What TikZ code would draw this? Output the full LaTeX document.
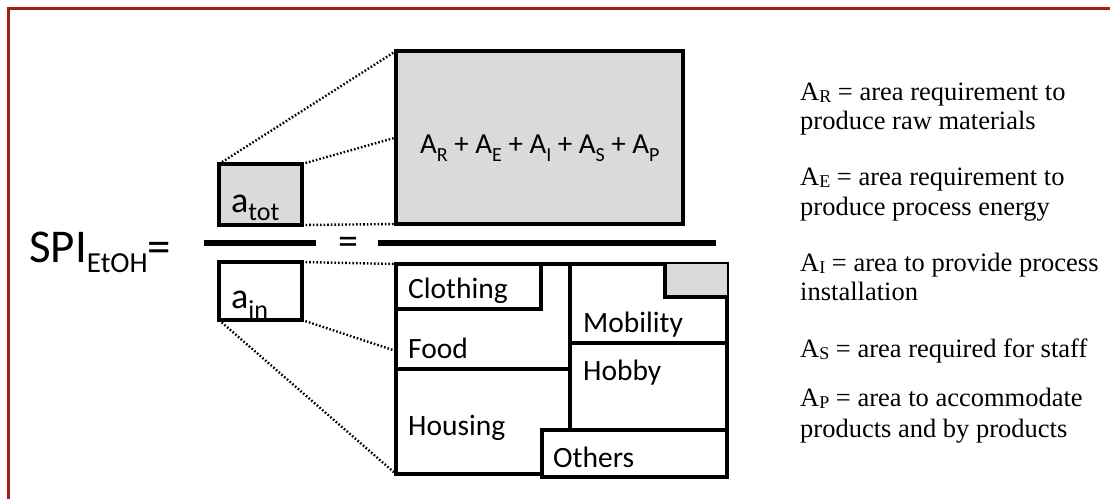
\documentclass[tikz,border=0pt]{standalone}
\usepackage{fontspec}
\setmainfont{Liberation Serif}
\newfontfamily\calib{Carlito}
\definecolor{boxgray}{RGB}{218,218,218}
\definecolor{bordred}{RGB}{160,32,18}
\newcommand\csub[2]{\raisebox{#1}{\fontsize{20}{20}\selectfont #2}}
\newcommand\tsub[1]{\raisebox{-2.5pt}{\fontsize{18}{18}\selectfont #1}}
\begin{document}
\begin{tikzpicture}[x=1pt,y=-1pt,
  box/.style={draw, line width=4pt, rectangle, inner sep=0pt, outer sep=0pt},
  wall/.style={line width=4pt, line cap=rect},
  bar/.style={line width=6.5pt},
  dots/.style={line width=2.4pt, dash pattern=on 1.6pt off 2pt},
  lbl/.style={font=\calib\fontsize{29.5}{32}\selectfont, inner sep=0pt, anchor=base west},
  note/.style={font=\fontsize{26.5}{28}\selectfont, inner sep=0pt, anchor=base west},
  frame/.style={draw=bordred, line width=3pt}]
\useasboundingbox (0,0) rectangle (1110,499);
% frame
\coordinate (fb) at (8,499);
\coordinate (fc) at (8,8);
\coordinate (fr) at (1110,8);
\draw[frame] (fb) -- (fc) -- (fr);

% boxes
\node[box, fill=boxgray, minimum width=83pt, minimum height=61pt] (atot) at (260.5,194.5) {};
\node[box, fill=boxgray, minimum width=287pt, minimum height=173pt] (top) at (539.5,137.5) {};
\node[box, minimum width=83pt, minimum height=58pt] (ain) at (260.5,291) {};
\node[box, minimum width=331pt, minimum height=210pt] (bot) at (561.5,369) {};

% inner plan of bottom box
\fill[boxgray] (665,264) rectangle (727,297);
\draw[wall] (396,309) -- (541,309) -- (541,264);
\draw[wall] (570,264) -- (570,429);
\draw[wall] (396,369) -- (570,369);
\draw[wall] (665,264) -- (665,297) -- (727,297);
\draw[wall] (570,343) -- (727,343);
\node[box, fill=white, minimum width=185pt, minimum height=47pt] (oth) at (634.5,453) {};

% fraction bars
\node[inner sep=0pt] (bl) at (203,243) {};
\node[inner sep=0pt] (br) at (317,243) {};
\node[inner sep=0pt] (cl) at (377,243) {};
\node[inner sep=0pt] (cr) at (717,243) {};
\draw[bar] (bl) -- (br);
\draw[bar] (cl) -- (cr);
\node[font=\calib\fontsize{40}{40}\selectfont, inner sep=0pt] (eq) at (348,246) {=};

% dotted connectors
\draw[dots] (atot.north west) -- (top.north west);
\draw[dots] (atot.north east) -- (top.west);
\draw[dots] (atot.south east) -- (top.south west);
\draw[dots] (ain.north east) -- (bot.north west);
\draw[dots] (ain.south east) -- ([yshift=18pt]bot.west);
\draw[dots] (ain.south west) -- (bot.south west);

% texts
\node[lbl, font=\calib\fontsize{47}{50}\selectfont] (spi) at (29,262)
  {SPI\raisebox{-10pt}{\fontsize{29}{30}\selectfont EtOH}=};
\node[lbl, font=\calib\fontsize{36}{40}\selectfont] (ta) at (231,212)
  {a\raisebox{-8pt}{\fontsize{26}{26}\selectfont tot}};
\node[lbl, font=\calib\fontsize{36}{40}\selectfont] (ia) at (231,308)
  {a\raisebox{-10pt}{\fontsize{26}{26}\selectfont in}};
\node[lbl, font=\calib\fontsize{29}{32}\selectfont] (sum) at (420,153)
  {A\csub{-8pt}{R} + A\csub{-8pt}{E} + A\csub{-8pt}{I} + A\csub{-8pt}{S} + A\csub{-8pt}{P}};
\node[lbl] (clo) at (408,298) {Clothing};
\node[lbl] (foo) at (408,358) {Food};
\node[lbl] (hou) at (408,435) {Housing};
\node[lbl] (mob) at (583,332) {Mobility};
\node[lbl] (hob) at (583,380) {Hobby};
\node[lbl] (ot) at (553,467) {Others};

% legend
\node[note] (n1) at (800,100) {A\tsub{R} = area requirement to};
\node[note] (n2) at (800,129) {produce raw materials};
\node[note] (n3) at (800,185) {A\tsub{E} = area requirement to};
\node[note] (n4) at (800,215) {produce process energy};
\node[note] (n5) at (800,271) {A\tsub{I} = area to provide process};
\node[note] (n6) at (800,300) {installation};
\node[note] (n7) at (800,357) {A\tsub{S} = area required for staff};
\node[note] (n8) at (800,406) {A\tsub{P} = area to accommodate};
\node[note] (n9) at (800,437) {products and by products};
\end{tikzpicture}
\end{document}
